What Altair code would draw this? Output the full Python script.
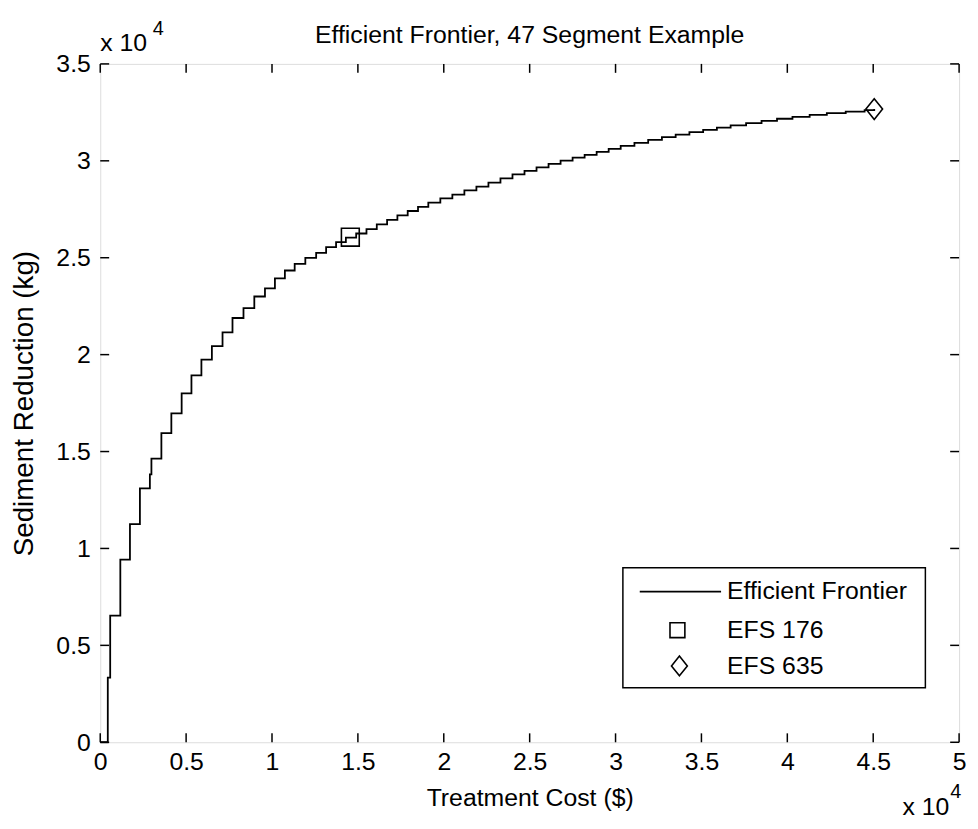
import altair as alt
import pandas as pd

# ---------------- data ----------------
cost = [0, 440, 580, 1170, 1730, 2310, 2890, 2980, 3560, 4140, 4740,
        5310, 5890, 6500, 7120, 7700, 8340, 8970, 9590, 10170, 10750,
        11320, 11940, 12570, 13150, 13730, 14300,
        14900, 15500, 16100, 16700, 17300, 17900, 18500, 19100, 19800,
        20500, 21200, 21900, 22600, 23300, 24000, 24700, 25400, 26100,
        26800, 27500, 28200, 28900, 29600, 30300, 31100, 31900, 32700,
        33500, 34300, 35100, 35900, 36700, 37600, 38500, 39400, 40300,
        41300, 42300, 43400, 44500, 45060]
reduction = [0, 3330, 6530, 9420, 11260, 13100, 13820, 14640, 15950, 16970,
             18000, 18930, 19740, 20440, 21150, 21890, 22400, 23000, 23420,
             23930, 24340, 24680, 24990, 25250, 25550, 25810, 26040,
             26250, 26480, 26720, 26950, 27180, 27410, 27620, 27840, 28060,
             28260, 28470, 28670, 28880, 29090, 29300, 29480, 29660, 29840,
             30010, 30160, 30310, 30460, 30620, 30770, 30930, 31080, 31220,
             31350, 31480, 31600, 31710, 31830, 31940, 32060, 32170, 32270,
             32370, 32460, 32540, 32620, 32670]

efs_labels = ["EFS 176", "EFS 635"]
efs_cost = [14560, 45060]
efs_reduction = [26060, 32670]

x_ticks = [0, 5000, 10000, 15000, 20000, 25000, 30000, 35000, 40000, 45000, 50000]
y_ticks = [0, 5000, 10000, 15000, 20000, 25000, 30000, 35000]

legend_labels = ["Efficient Frontier", "EFS 176", "EFS 635"]
title_text = "Efficient Frontier, 47 Segment Example"
x_title = "Treatment Cost ($)"
y_title = "Sediment Reduction (kg)"
exponent_base = "x 10"
exponent_power = "4"

# ---------------- styling ----------------
W, H = 866, 684
FONT = "Liberation Sans"
FS = 25
TICK = 9
DIAMOND = "M-0.8,0L0,-1L0.8,0L0,1Z"

frontier = pd.DataFrame({"cost": cost, "reduction": reduction})
efs = pd.DataFrame({"label": efs_labels, "cost": efs_cost, "reduction": efs_reduction})
xt = pd.DataFrame({"cost": x_ticks})
yt = pd.DataFrame({"reduction": y_ticks})
one = alt.Data(values=[{"a": 1}])

xs = alt.Scale(domain=[0, 50000], nice=False, zero=False)
ys = alt.Scale(domain=[0, 35000], nice=False, zero=False)

x_axis = alt.Axis(values=x_ticks, labelExpr="datum.value / 10000 + ''",
                  ticks=False, tickSize=0, domain=False, grid=False,
                  labelPadding=7, labelFontSize=FS, labelFont=FONT,
                  labelColor="black", labelFlush=False, labelOverlap=False,
                  title=x_title, titleFont=FONT, titleFontSize=FS,
                  titleFontWeight="normal", titleColor="black",
                  titleX=W / 2, titleY=56, titleBaseline="middle", titleAlign="center")
y_axis = alt.Axis(values=y_ticks, labelExpr="datum.value / 10000 + ''",
                  ticks=False, tickSize=0, domain=False, grid=False,
                  labelPadding=10, labelFontSize=FS, labelFont=FONT,
                  labelColor="black", labelFlush=False, labelOverlap=False,
                  title=y_title, titleFont=FONT, titleFontSize=28,
                  titleFontWeight="normal", titleColor="black",
                  titleAngle=270, titleX=-76, titleY=H / 2,
                  titleBaseline="middle", titleAlign="center")

X = alt.X("cost:Q", scale=xs, axis=x_axis)
Y = alt.Y("reduction:Q", scale=ys, axis=y_axis)

line = alt.Chart(frontier).mark_line(
    interpolate="step-after", color="black", strokeWidth=1.8
).encode(x=X, y=Y)

sq = alt.Chart(efs).transform_filter(alt.datum.label == "EFS 176").mark_point(
    shape="square", size=324, filled=False, color="black", strokeWidth=1.6, opacity=1
).encode(x=X, y=Y)

dia = alt.Chart(efs).transform_filter(alt.datum.label == "EFS 635").mark_point(
    shape=DIAMOND, size=441, filled=False, color="black", strokeWidth=1.6, opacity=1
).encode(x=X, y=Y)

xtick_b = alt.Chart(xt).mark_rule(color="black", strokeWidth=1.5).encode(
    x=X, y=alt.value(H), y2=alt.value(H - TICK))
xtick_t = alt.Chart(xt).mark_rule(color="black", strokeWidth=1.5).encode(
    x=X, y=alt.value(0), y2=alt.value(TICK))
ytick_l = alt.Chart(yt).mark_rule(color="black", strokeWidth=1.5).encode(
    y=Y, x=alt.value(0), x2=alt.value(TICK))
ytick_r = alt.Chart(yt).mark_rule(color="black", strokeWidth=1.5).encode(
    y=Y, x=alt.value(W - TICK), x2=alt.value(W))


def txt(t, x, y, size=FS, align="left"):
    return alt.Chart(one).mark_text(
        text=t, font=FONT, fontSize=size, color="black", align=align,
        baseline="alphabetic"
    ).encode(x=alt.value(x), y=alt.value(y))


title_mark = txt(title_text, W / 2, -21, FS, "center")
exp_tl = txt(exponent_base, 0, -13) + txt(exponent_power, 53, -29, 20)
exp_br = txt(exponent_base, 809, 757) + txt(exponent_power, 857, 740, 20)

# legend
LX0, LX1, LY0, LY1 = 527, 832, 508, 629
leg_box = alt.Chart(one).mark_rect(fill="white", stroke="black", strokeWidth=1.5).encode(
    x=alt.value(LX0), x2=alt.value(LX1), y=alt.value(LY0), y2=alt.value(LY1))
leg_line = alt.Chart(one).mark_rule(color="black", strokeWidth=1.8).encode(
    x=alt.value(544), x2=alt.value(626), y=alt.value(532))
leg_sq = alt.Chart(one).mark_point(shape="square", size=225, filled=False, color="black",
                                   strokeWidth=1.6, opacity=1).encode(
    x=alt.value(582), y=alt.value(571))
leg_dia = alt.Chart(one).mark_point(shape=DIAMOND, size=400, filled=False, color="black",
                                    strokeWidth=1.6, opacity=1).encode(
    x=alt.value(584), y=alt.value(607))
leg_rows = [532, 571, 607]
leg_txt = None
for lab, yy in zip(legend_labels, leg_rows):
    t = alt.Chart(one).mark_text(text=lab, font=FONT, fontSize=FS, color="black",
                                 align="left", baseline="middle").encode(
        x=alt.value(632), y=alt.value(yy))
    leg_txt = t if leg_txt is None else leg_txt + t

chart = alt.layer(
    line, sq, dia, xtick_b, xtick_t, ytick_l, ytick_r, title_mark, exp_tl, exp_br,
    leg_box, leg_line, leg_sq, leg_dia, leg_txt
).properties(
    width=W, height=H,
    autosize=alt.AutoSizeParams(type="none"),
    padding={"left": 93, "top": 53, "right": 11, "bottom": 74},
).configure_view(stroke="black", strokeWidth=1.5).configure(background="white")

chart.save("out.html", embed_options={"renderer": "svg", "actions": False})
